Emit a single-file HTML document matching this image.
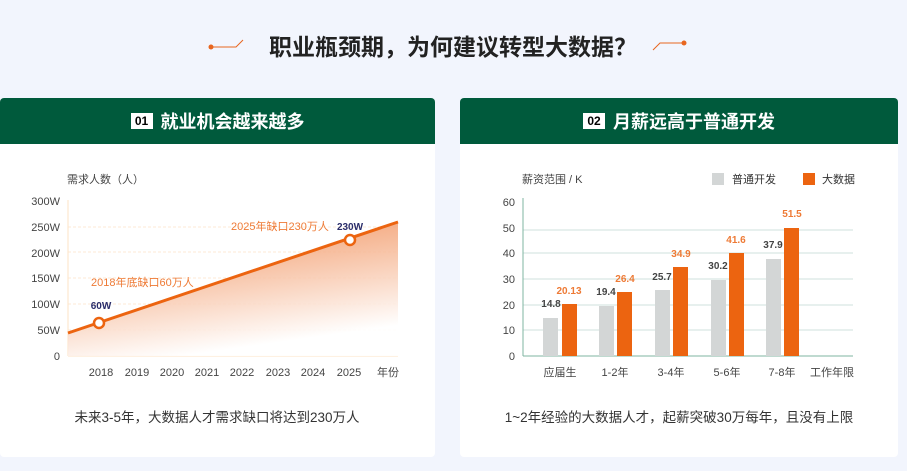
<!DOCTYPE html>
<html><head><meta charset="utf-8"><style>
body{margin:0;width:907px;height:471px;background:#f2f5fd;overflow:hidden;font-family:"Liberation Sans","Noto Sans CJK SC",sans-serif;position:relative}
.card{position:absolute;top:98px;height:359px;background:#fff;border-radius:4px;overflow:hidden}
.hd{height:46px;background:#005a3c;color:#fff;font-weight:bold;font-size:18px;display:flex;align-items:center;justify-content:center}
.bd{display:inline-block;background:#fff;color:#000;font-size:12px;width:22px;height:16px;line-height:16px;text-align:center;margin-right:8px}
svg{position:absolute;left:0;top:0}
</style></head><body>
<div class="card" style="left:0;width:435px"><div class="hd"><span class="bd">01</span>就业机会越来越多</div></div>
<div class="card" style="left:460px;width:438px"><div class="hd"><span class="bd">02</span>月薪远高于普通开发</div></div>
<svg width="907" height="471" font-family="Liberation Sans, Noto Sans CJK SC, sans-serif">
<defs><linearGradient id="g" x1="0" y1="0" x2="0.35" y2="1"><stop offset="0" stop-color="#ee7a3a" stop-opacity="0.85"/><stop offset="1" stop-color="#fff" stop-opacity="0.9"/></linearGradient></defs>
<text x="453" y="55" text-anchor="middle" font-size="23" font-weight="bold" fill="#222">职业瓶颈期，为何建议转型大数据？</text>
<circle cx="211" cy="47" r="2.5" fill="#e8661f"/><path d="M211 47H236L243 40" stroke="#e8661f" fill="none"/>
<circle cx="684" cy="43" r="2.5" fill="#e8661f"/><path d="M684 43H660L653 50" stroke="#e8661f" fill="none"/>
<!-- left chart -->
<text x="67" y="183" font-size="11" fill="#444">需求人数（人）</text>
<g stroke="#fde9d6" stroke-dasharray="3,2"><path d="M68 227H398M68 252H398M68 278H398M68 304H398M68 330H398"/></g>
<path d="M68 356H398M68 200V356" stroke="#fde3c6"/>
<path d="M68 333L398 222V356H68Z" fill="url(#g)"/>
<path d="M68 333L398 222" stroke="#ec6410" stroke-width="3"/>
<circle cx="99" cy="323" r="5" fill="#fff" stroke="#ec6410" stroke-width="2.5"/>
<circle cx="350" cy="240" r="5" fill="#fff" stroke="#ec6410" stroke-width="2.5"/>
<g font-size="11" fill="#444" text-anchor="end"><text x="60" y="205">300W</text><text x="60" y="231">250W</text><text x="60" y="257">200W</text><text x="60" y="282">150W</text><text x="60" y="308">100W</text><text x="60" y="334">50W</text><text x="60" y="360">0</text></g>
<g font-size="11" fill="#444" text-anchor="middle"><text x="101" y="376">2018</text><text x="137" y="376">2019</text><text x="172" y="376">2020</text><text x="207" y="376">2021</text><text x="242" y="376">2022</text><text x="278" y="376">2023</text><text x="313" y="376">2024</text><text x="349" y="376">2025</text><text x="388" y="376">年份</text></g>
<text x="91" y="286" font-size="11" fill="#ee7a35">2018年底缺口60万人</text>
<text x="231" y="230" font-size="11" fill="#ee7a35">2025年缺口230万人</text>
<text x="101" y="309" font-size="10" font-weight="bold" fill="#2a2d6a" text-anchor="middle">60W</text>
<text x="350" y="230" font-size="10" font-weight="bold" fill="#2a2d6a" text-anchor="middle">230W</text>
<!-- right chart -->
<text x="522" y="183" font-size="11" fill="#444">薪资范围 / K</text>
<rect x="712" y="173" width="12" height="12" fill="#d3d6d6"/><text x="732" y="183" font-size="11" fill="#333">普通开发</text>
<rect x="803" y="173" width="12" height="12" fill="#ec6410"/><text x="822" y="183" font-size="11" fill="#333">大数据</text>
<g stroke="#cfe2dc"><path d="M523 230H853M523 253H853M523 279H853M523 305H853M523 330H853"/></g>
<path d="M523 356H853M523 198V356" stroke="#7fb4a2"/>
<g font-size="11" fill="#444" text-anchor="end"><text x="515" y="206">60</text><text x="515" y="232">50</text><text x="515" y="257">40</text><text x="515" y="283">30</text><text x="515" y="309">20</text><text x="515" y="334">10</text><text x="515" y="360">0</text></g>
<g fill="#d3d6d6"><rect x="543" y="318" width="15" height="38"/><rect x="599" y="306" width="15" height="50"/><rect x="655" y="290" width="15" height="66"/><rect x="711" y="280" width="15" height="76"/><rect x="766" y="259" width="15" height="97"/></g>
<g fill="#ec6410"><rect x="562" y="304" width="15" height="52"/><rect x="617" y="292" width="15" height="64"/><rect x="673" y="267" width="15" height="89"/><rect x="729" y="253" width="15" height="103"/><rect x="784" y="228" width="15" height="128"/></g>
<g font-size="10" font-weight="bold" fill="#444" text-anchor="middle"><text x="551" y="307">14.8</text><text x="606" y="295">19.4</text><text x="662" y="280">25.7</text><text x="718" y="269">30.2</text><text x="773" y="248">37.9</text></g>
<g font-size="10" font-weight="bold" fill="#ee7a35" text-anchor="middle"><text x="569" y="294">20.13</text><text x="625" y="282">26.4</text><text x="681" y="257">34.9</text><text x="736" y="243">41.6</text><text x="792" y="217">51.5</text></g>
<g font-size="11" fill="#444" text-anchor="middle"><text x="560" y="376">应届生</text><text x="615" y="376">1-2年</text><text x="671" y="376">3-4年</text><text x="727" y="376">5-6年</text><text x="782" y="376">7-8年</text><text x="832" y="376">工作年限</text></g>
<text x="217" y="422" font-size="13.5" fill="#333" text-anchor="middle">未来3-5年，大数据人才需求缺口将达到230万人</text>
<text x="679" y="422" font-size="13.5" fill="#333" text-anchor="middle">1~2年经验的大数据人才，起薪突破30万每年，且没有上限</text>
</svg>
</body></html>
